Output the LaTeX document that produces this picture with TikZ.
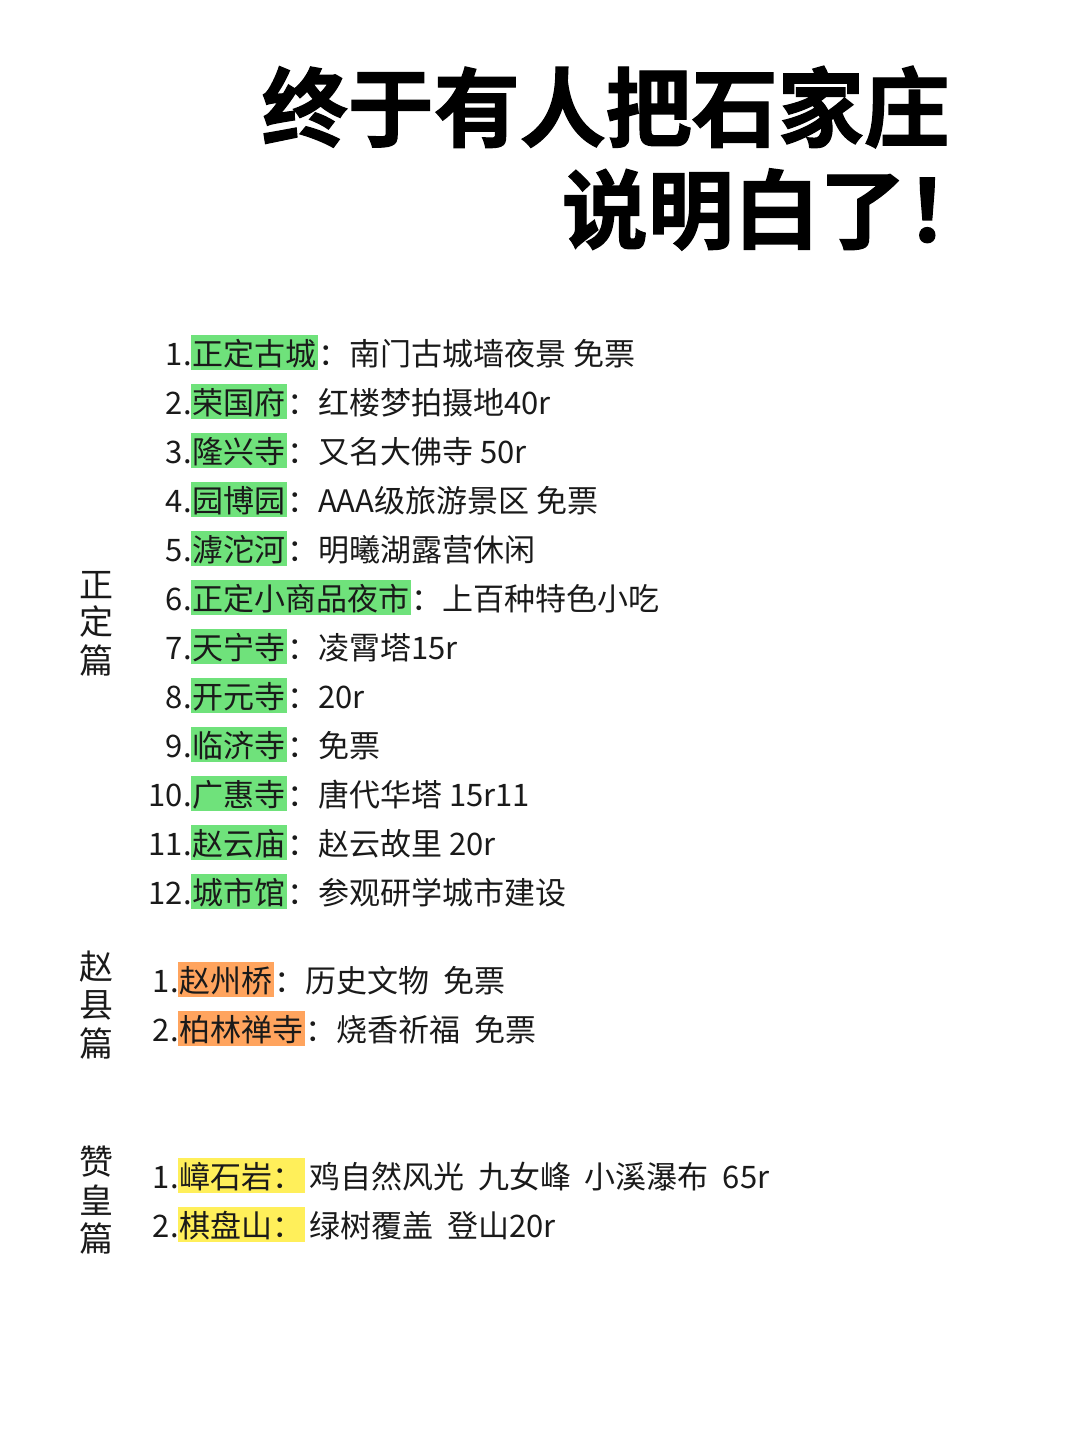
\documentclass[tikz,border=0pt]{standalone}
\usepackage{fontspec}
\setmainfont{Noto Sans CJK SC}
\newfontfamily\cjk{Noto Sans CJK SC}
\newfontfamily\cjkbold{Noto Sans CJK SC}[BoldFont={* Bold},FakeBold=1.5]
\definecolor{hlg}{HTML}{6FE27B}
\definecolor{hlo}{HTML}{FFA45E}
\definecolor{hly}{HTML}{FFEF5A}
\definecolor{ink}{HTML}{1A1A1A}
\newcommand{\hlbox}[2]{{\setlength{\fboxsep}{0pt}\colorbox{#1}{\rule[-0.16em]{0pt}{1.12em}\hspace{1pt}#2\hspace{2pt}}}}
\begin{document}
\begin{tikzpicture}[x=1pt,y=-1pt,
  item/.style={inner sep=0pt,font=\fontsize{31}{31}\selectfont,text=ink},
  vlab/.style={inner sep=0pt,font=\fontsize{34}{34}\selectfont,text=ink},
  ttl/.style={inner sep=0pt,font=\cjkbold\bfseries\fontsize{86}{86}\selectfont,text=black}]
\useasboundingbox[fill=white] (0,0) rectangle (1080,1443);
\node[ttl,anchor=base east] (t1) at (950,140) {终于有人把石家庄};
\node[ttl,anchor=base east] (t2) at (992,242) {说明白了！};
% vertical labels
\foreach \c/\yy/\n in {正/585/a,定/622/b,篇/660/c}{\node[vlab] (zd\n) at (96,\yy) {\c};}
\foreach \c/\yy/\n in {赵/967/a,县/1005/b,篇/1043/c}{\node[vlab] (zx\n) at (96,\yy) {\c};}
\foreach \c/\yy/\n in {赞/1162/a,皇/1200/b,篇/1238/c}{\node[vlab] (zh\n) at (96,\yy) {\c};}
% Zhengding
\foreach \num/\name/\desc/\yy [count=\i] in {
 1./正定古城/南门古城墙夜景 免票/365,
 2./荣国府/红楼梦拍摄地40r/414,
 3./隆兴寺/又名大佛寺 50r/463,
 4./园博园/AAA级旅游景区 免票/512,
 5./滹沱河/明曦湖露营休闲/561,
 6./正定小商品夜市/上百种特色小吃/610,
 7./天宁寺/凌霄塔15r/659,
 8./开元寺/20r/708,
 9./临济寺/免票/757,
 10./广惠寺/唐代华塔 15r11/806,
 11./赵云庙/赵云故里 20r/855,
 12./城市馆/参观研学城市建设/904}{
 \node[item,anchor=base east] (zn\i) at (192,\yy) {\num};
 \node[item,anchor=base west] (zt\i) at (191,\yy) {\hlbox{hlg}{\name}：\desc};
}
\foreach \num/\name/\desc/\yy [count=\i] in {
 1./赵州桥/历史文物\ \ 免票/992,
 2./柏林禅寺/烧香祈福\ \ 免票/1041}{
 \node[item,anchor=base east] (xn\i) at (179,\yy) {\num};
 \node[item,anchor=base west] (xt\i) at (178,\yy) {\hlbox{hlo}{\name}：\desc};
}
\foreach \num/\name/\desc/\yy [count=\i] in {
 1./嶂石岩/鸡自然风光\ \ 九女峰\ \ 小溪瀑布\ \ 65r/1188,
 2./棋盘山/绿树覆盖\ \ 登山20r/1237}{
 \node[item,anchor=base east] (hn\i) at (179,\yy) {\num};
 \node[item,anchor=base west] (ht\i) at (178,\yy) {\hlbox{hly}{\name：}\hspace{4pt}\desc};
}
\end{tikzpicture}
\end{document}
